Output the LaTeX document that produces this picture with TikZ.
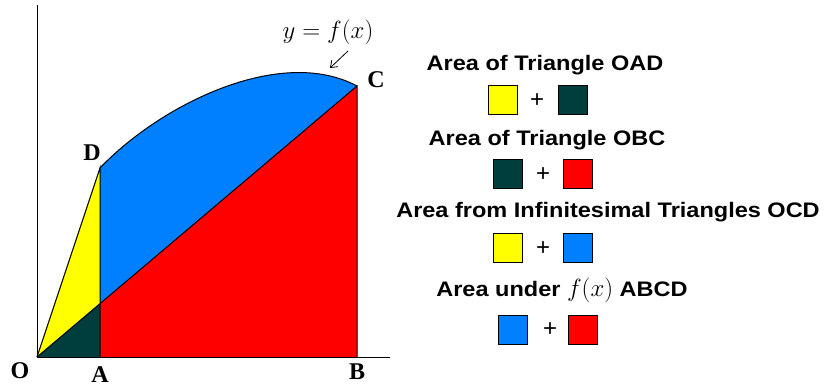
\documentclass[tikz,border=0pt]{standalone}
\usepackage{fontspec}
\usetikzlibrary{arrows.meta}
\setmainfont{Liberation Serif}
\newfontfamily\legendfont[FakeStretch=1.12]{Liberation Sans}
\newfontfamily\plusfont{Liberation Sans}
\definecolor{areayellow}{RGB}{255,255,0}
\definecolor{areadark}{RGB}{0,62,62}
\definecolor{areared}{RGB}{255,0,0}
\definecolor{areablue}{RGB}{0,128,255}
\tikzset{
  pointlabel/.style={font=\fontsize{24}{26}\selectfont\bfseries},
  legendtext/.style={font=\legendfont\fontsize{21}{24}\selectfont\bfseries},
  swatch/.style={draw=black,line width=1pt,minimum size=29pt,inner sep=0pt},
  plussign/.style={font=\plusfont\fontsize{24}{26}\selectfont}
}
\begin{document}
\begin{tikzpicture}[x=1pt,y=-1pt,>={Straight Barb[length=6pt,width=9pt]}]
 \useasboundingbox (0,0) rectangle (832,387);
 % points of the figure
 \coordinate (O) at (37,357);
 \coordinate (A) at (100,357);
 \coordinate (B) at (357,357);
 \coordinate (C) at (357,86);
 \coordinate (D) at (100,168);
 \coordinate (E) at (100,303.6);
 \coordinate (Ytop) at (37,5);
 \coordinate (Xend) at (390,357);
 % coloured regions
 \fill[areayellow] (O)--(D)--(E)--cycle;
 \fill[areadark] (O)--(A)--(E)--cycle;
 \fill[areablue] (D) .. controls (160,105) and (280,45) .. (C)--(E)--cycle;
 \fill[areared] (E)--(C)--(B)--(A)--cycle;
 % outlines
 \draw[line width=1pt] (Ytop)--(O)--(Xend);
 \draw[line width=1pt] (O)--(D)--(A);
 \draw[line width=1pt] (O)--(C)--(B);
 \draw[line width=1pt] (D) .. controls (160,105) and (280,45) .. (C);
 % labels
 \node[pointlabel] (lO) at (20,371) {O};
 \node[pointlabel] (lA) at (100,375) {A};
 \node[pointlabel] (lB) at (357,372) {B};
 \node[pointlabel] (lC) at (376,80) {C};
 \node[pointlabel] (lD) at (92,153) {D};
 \node[font=\fontsize{24}{26}\selectfont] (fx) at (328,32) {$y=f(x)$};
 \coordinate (tail) at (348,51);
 \coordinate (tip) at (330,68);
 \draw[->,line width=0.8pt] (tail)--(tip);
 % legend
 \node[legendtext] (t1) at (545,65) {Area of Triangle OAD};
 \node[swatch,fill=areayellow] (s1a) at (502.5,100.5) {};
 \node[plussign] (p1) at (537,100.5) {+};
 \node[swatch,fill=areadark] (s1b) at (573,100.5) {};
 \node[legendtext] (t2) at (547,140) {Area of Triangle OBC};
 \node[swatch,fill=areadark] (s2a) at (508,174.5) {};
 \node[plussign] (p2) at (543,174.5) {+};
 \node[swatch,fill=areared] (s2b) at (578,174.5) {};
 \node[legendtext] (t3) at (608,212) {Area from Infinitesimal Triangles OCD};
 \node[swatch,fill=areayellow] (s3a) at (508,248.5) {};
 \node[plussign] (p3) at (543,248.5) {+};
 \node[swatch,fill=areablue] (s3b) at (578,248.5) {};
 \node[legendtext] (t4) at (562,290) {Area under \normalfont\fontsize{24}{26}\selectfont$f(x)$\legendfont\fontsize{21}{24}\selectfont\bfseries{} ABCD};
 \node[swatch,fill=areablue] (s4a) at (513,329.5) {};
 \node[plussign] (p4) at (550,329.5) {+};
 \node[swatch,fill=areared] (s4b) at (583,329.5) {};
\end{tikzpicture}
\end{document}
